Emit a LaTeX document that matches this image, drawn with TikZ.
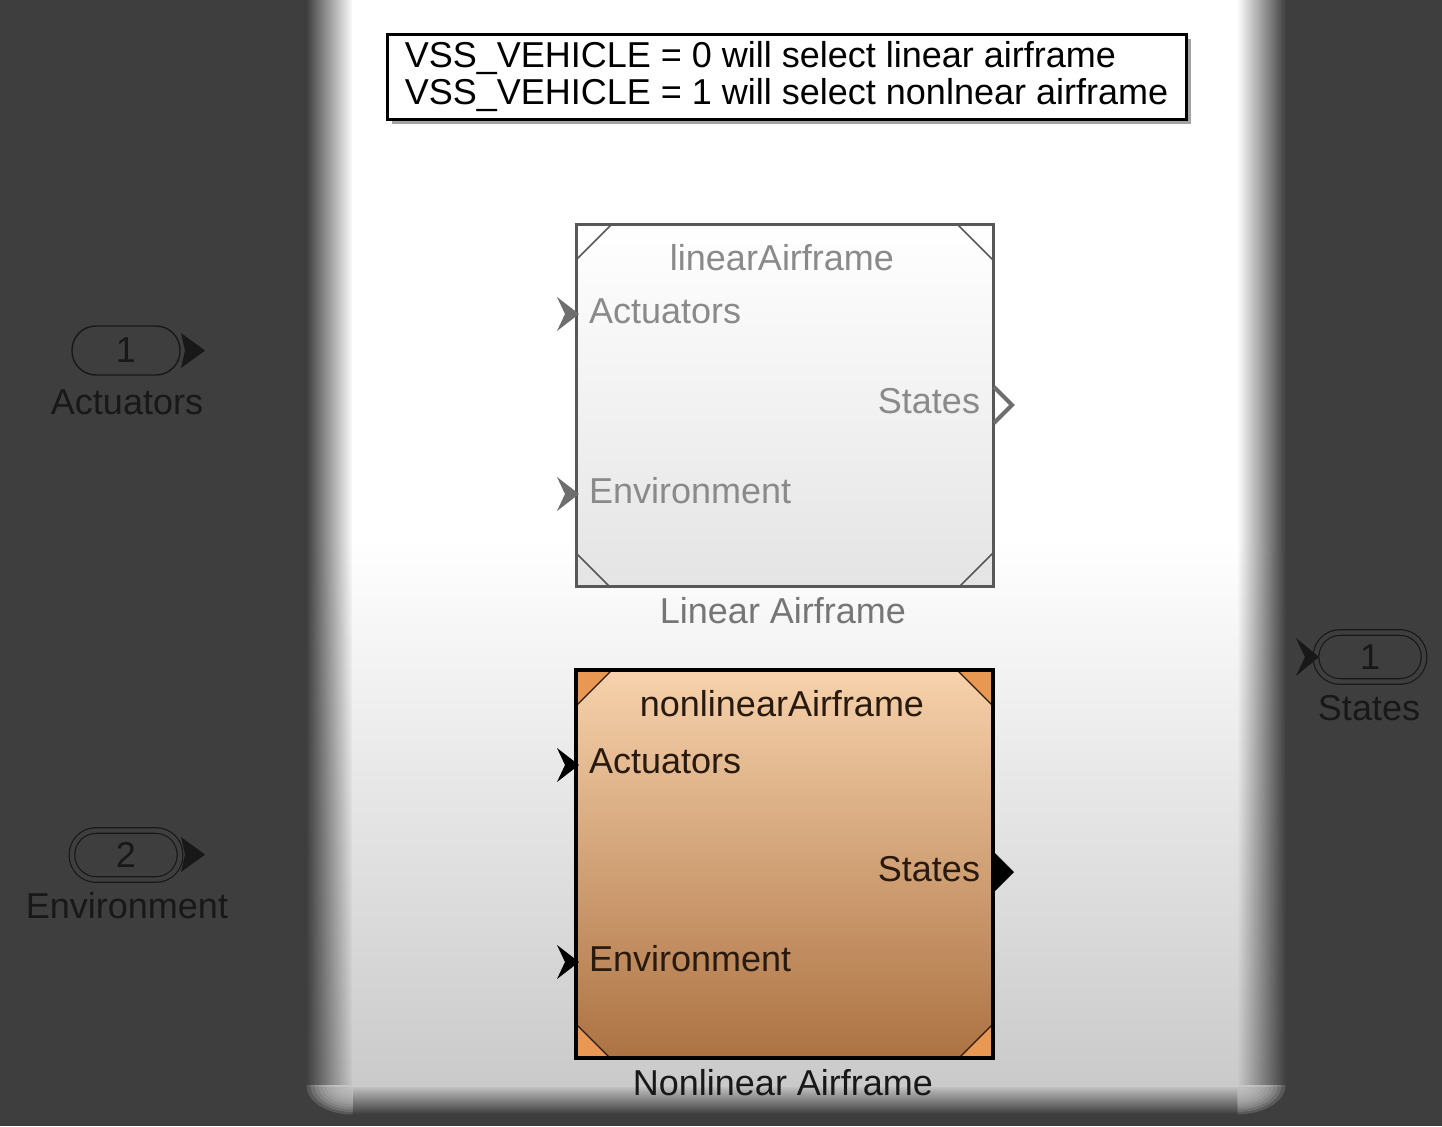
\documentclass[tikz,border=0pt]{standalone}
\usepackage{fontspec}
\setmainfont{Liberation Sans}
\usetikzlibrary{shadows,fadings}

\definecolor{bgdark}{RGB}{62,62,62}
\definecolor{sheetlow}{RGB}{202,202,202}
\definecolor{linedge}{RGB}{88,88,88}
\definecolor{linlow}{RGB}{228,228,228}
\definecolor{lintext}{RGB}{138,138,138}
\definecolor{linlabel}{RGB}{118,118,118}
\definecolor{linport}{RGB}{110,110,110}
\definecolor{nltop}{RGB}{247,210,172}
\definecolor{nlbot}{RGB}{172,114,66}
\definecolor{nlcorner}{RGB}{232,152,82}
\definecolor{nltext}{RGB}{40,26,14}
\definecolor{extink}{RGB}{24,24,24}

\tikzfading[name=sheetleft, left color=transparent!100, right color=transparent!0]
\tikzfading[name=sheetright, left color=transparent!0, right color=transparent!100]
\tikzfading[name=sheetbottom, top color=transparent!0, bottom color=transparent!100]

\begin{document}
\begin{tikzpicture}[x=0.5pt,y=-0.5pt,
    every node/.style={font=\fontsize{18}{18.5}\selectfont},
    lbl/.style={inner sep=0pt, outer sep=0pt},
    sheet/.style={top color=white, bottom color=sheetlow, middle color=white},
    sheetcorner/.style={fill=sheetlow, fill opacity=0.2},
    notebox/.style={draw=black, line width=1.5pt, fill=white, align=left,
        minimum width=399.5pt, minimum height=42.5pt, inner ysep=0pt,
        drop shadow={shadow xshift=2.5pt, shadow yshift=-2.5pt, fill=black!45, opacity=0.8}},
    linblock/.style={draw=linedge, line width=1.5pt, top color=white, bottom color=linlow,
        minimum width=208.5pt, minimum height=181pt, inner sep=0pt, outer sep=0pt},
    nlblock/.style={top color=nltop, bottom color=nlbot,
        minimum width=208.5pt, minimum height=194pt, inner sep=0pt, outer sep=0pt},
    nlframe/.style={draw=black, line width=2pt},
    lincorner/.style={draw=linedge, line width=0.8pt},
    nlcornerfill/.style={fill=nlcorner, draw=nltext, line width=0.6pt},
    pill/.style={draw=extink, line width=0.7pt, rounded corners=12pt, text=extink,
        minimum width=54pt, minimum height=24.5pt, inner sep=0pt},
    pilldouble/.style={pill, double=bgdark, double distance=2.2pt, line width=0.6pt}
]
    \useasboundingbox (0,0) rectangle (1442,1126);

    % Dark background
    \fill[bgdark] (0,0) rectangle (1442,1126);

    % White sheet with soft edges
    \shade[sheet] (352,-10) rectangle (1238,1086);
    \shade[sheet, path fading=sheetleft] (306,-10) rectangle (353,1086);
    \shade[sheet, path fading=sheetright] (1237,-10) rectangle (1286,1086);
    \fill[sheetlow, path fading=sheetbottom] (352,1085) rectangle (1238,1114);
    \begin{scope}
        \clip (306,1085.5) rectangle (352.5,1126);
        \foreach \r in {46,42,...,2}
            \fill[sheetcorner] (352.5,1085.5) circle [x radius=\r, y radius=0.63*\r];
    \end{scope}
    \begin{scope}
        \clip (1237.5,1085.5) rectangle (1286,1126);
        \foreach \r in {48,44,...,4}
            \fill[sheetcorner] (1237.5,1085.5) circle [x radius=\r, y radius=0.6*\r];
    \end{scope}

    % Variant note
    \node[notebox] (note) at (786.5,76.5) {VSS\_VEHICLE = 0 will select linear airframe\\VSS\_VEHICLE = 1 will select nonlnear airframe};

    % Linear airframe (inactive variant)
    \node[linblock] (lin) at (784.5,405) {};
    \draw[lincorner] (lin.north west) ++(0,36) -- ++(36,-36);
    \draw[lincorner] (lin.north east) ++(-36,0) -- ++(36,36);
    \draw[lincorner] (lin.south west) ++(0,-33) -- ++(33,33);
    \draw[lincorner] (lin.south east) ++(-33,0) -- ++(33,-33);
    \node[lbl, text=lintext] (linName) at (782,258) {linearAirframe};
    \node[lbl, text=lintext, anchor=west] (linAct) at (589,311) {Actuators};
    \node[lbl, text=lintext, anchor=east] (linSt) at (980,401) {States};
    \node[lbl, text=lintext, anchor=west] (linEnv) at (589,491) {Environment};
    \node[lbl, text=linlabel] (linLab) at (783,611) {Linear Airframe};
    \fill[linport] (557,297) -- (579,314) -- (557,331) -- (565,314) -- cycle;
    \fill[linport] (557,477) -- (579,494) -- (557,511) -- (565,494) -- cycle;
    \draw[linport, line width=2pt] (994,387) -- (1012,405) -- (994,423);

    % Nonlinear airframe (active variant)
    \node[nlblock] (nl) at (784.5,864) {};
    \filldraw[nlcornerfill] (nl.north west) -- ++(36,0) -- ++(-36,36) -- cycle;
    \filldraw[nlcornerfill] (nl.north east) -- ++(-36,0) -- ++(36,36) -- cycle;
    \filldraw[nlcornerfill] (nl.south west) -- ++(34,0) -- ++(-34,-34) -- cycle;
    \filldraw[nlcornerfill] (nl.south east) -- ++(-34,0) -- ++(34,-34) -- cycle;
    \draw[nlframe] (nl.north west) rectangle (nl.south east);
    \node[lbl, text=nltext] (nlName) at (782,704) {nonlinearAirframe};
    \node[lbl, text=nltext, anchor=west] (nlAct) at (589,761) {Actuators};
    \node[lbl, text=nltext, anchor=east] (nlSt) at (980,869) {States};
    \node[lbl, text=nltext, anchor=west] (nlEnv) at (589,959) {Environment};
    \node[lbl, text=extink] (nlLab) at (783,1083) {Nonlinear Airframe};
    \fill[black] (557,748) -- (579,765) -- (557,782) -- (565,765) -- cycle;
    \fill[black] (557,945) -- (579,962) -- (557,979) -- (565,962) -- cycle;
    \fill[black] (994,852) -- (1014,872) -- (994,892) -- cycle;

    % Inports
    \node[pill] (inAct) at (126,350.5) {1};
    \fill[extink] (181,333) -- (205,350.5) -- (181,368) -- (185,350.5) -- cycle;
    \node[lbl, text=extink] (inActLab) at (127,402) {Actuators};

    \node[pilldouble] (inEnv) at (126,855) {2};
    \fill[extink] (181,837) -- (205,854.5) -- (181,872) -- (185,854.5) -- cycle;
    \node[lbl, text=extink] (inEnvLab) at (127,906) {Environment};

    % Outport
    \node[pilldouble] (outSt) at (1370,657) {1};
    \fill[extink] (1296,638) -- (1319,657) -- (1296,676) -- (1305,657) -- cycle;
    \node[lbl, text=extink] (outStLab) at (1369,708) {States};
\end{tikzpicture}
\end{document}
